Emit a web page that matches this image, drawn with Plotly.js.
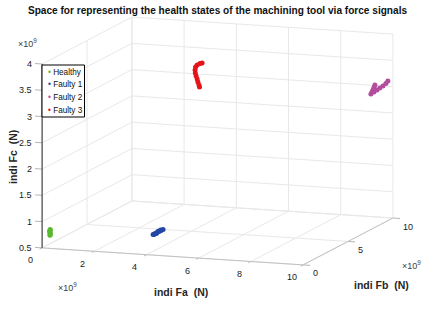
<!DOCTYPE html>
<html>
<head>
<meta charset="utf-8">
<script src="https://cdn.plot.ly/plotly-3.0.1.min.js"></script>
<style>html,body{margin:0;padding:0;background:#fff;}#chart{width:422px;height:309px;}</style>
</head>
<body>
<div id="chart"></div>
<script>
// ---- data (values in units of 1e9 N) ----
const seriesNames = ["Healthy", "Faulty 1", "Faulty 2", "Faulty 3"];
const seriesColors = ["#5ab92e", "#2347a6", "#b24e9d", "#e5141b"];

const healthyFa = [0.20, 0.20, 0.21, 0.20, 0.19, 0.20, 0.21, 0.20];
const healthyFb = [0.30, 0.30, 0.31, 0.30, 0.29, 0.30, 0.30, 0.31];
const healthyFc = [0.72, 0.73, 0.75, 0.77, 0.79, 0.80, 0.82, 0.83];

const faulty1Fa = [3.75, 3.75, 3.75, 3.75, 3.75, 3.75, 3.74, 3.76, 3.75, 3.74];
const faulty1Fb = [1.46, 1.68, 1.90, 2.12, 2.34, 2.57, 1.60, 2.00, 2.30, 1.85];
const faulty1Fc = [0.748, 0.747, 0.746, 0.746, 0.745, 0.744, 0.732, 0.762, 0.758, 0.732];

const faulty2Fa = [9.9, 9.9, 9.9, 9.9, 9.9, 9.9, 9.9, 9.9, 9.9, 9.9, 9.9];
const faulty2Fb = [8.29, 8.18, 8.07, 7.96, 7.84, 8.18, 8.51, 8.84, 9.18, 9.51, 9.73];
const faulty2Fc = [3.180, 3.142, 3.104, 3.076, 3.048, 3.056, 3.065, 3.073, 3.081, 3.099, 3.127];

const faulty3Fa = [4.41, 4.33, 4.22, 4.16, 4.14, 4.15, 4.18, 4.22, 4.25, 4.29, 4.31];
const faulty3Fb = [5.0, 5.0, 5.0, 5.0, 5.0, 5.0, 5.0, 5.0, 5.0, 5.0, 5.0];
const faulty3Fc = [3.714, 3.703, 3.670, 3.630, 3.573, 3.516, 3.460, 3.404, 3.348, 3.292, 3.255];

const xTicks = [0, 2, 4, 6, 8, 10];
const yTicks = [0, 5, 10];
const zTicks = [0.5, 1, 1.5, 2, 2.5, 3, 3.5, 4];
const xRange = [0, 10];
const yRange = [0, 10];
const zRange = [0.5, 4];

// ---- view (orthographic, like MATLAB view(az, el)) ----
const azDeg = -70.54, elDeg = 10.63;
const boxAspect = [1, 0.974, 0.676];
const phi = azDeg * Math.PI / 180, th = elDeg * Math.PI / 180;
const R = [-Math.sin(phi), Math.cos(phi), 0];
const U = [-Math.sin(th) * Math.cos(phi), -Math.sin(th) * Math.sin(phi), Math.cos(th)];

function norm(v, r) { return (v - r[0]) / (r[1] - r[0]); }
function projN(a, b, c) {
  const P = [(a - 0.5) * boxAspect[0], (b - 0.5) * boxAspect[1], (c - 0.5) * boxAspect[2]];
  return [P[0]*R[0] + P[1]*R[1] + P[2]*R[2], P[0]*U[0] + P[1]*U[1] + P[2]*U[2]];
}
function proj(x, y, z) { return projN(norm(x, xRange), norm(y, yRange), norm(z, zRange)); }

function segTrace(segs, color, width) {
  const xs = [], ys = [];
  segs.forEach(s => {
    const p = projN(...s[0]), q = projN(...s[1]);
    xs.push(p[0], q[0], null); ys.push(p[1], q[1], null);
  });
  return {type: "scatter", mode: "lines", x: xs, y: ys, line: {color: color, width: width},
          hoverinfo: "skip", showlegend: false};
}

// grid on the back planes: floor (c=0), back wall (b=1), left wall (a=0)
const gridSegs = [];
xTicks.forEach(t => { const a = norm(t, xRange);
  gridSegs.push([[a, 0, 0], [a, 1, 0]]); gridSegs.push([[a, 1, 0], [a, 1, 1]]); });
yTicks.forEach(t => { const b = norm(t, yRange);
  gridSegs.push([[0, b, 0], [1, b, 0]]); gridSegs.push([[0, b, 0], [0, b, 1]]); });
zTicks.forEach(t => { const c = norm(t, zRange);
  gridSegs.push([[0, 1, c], [1, 1, c]]); gridSegs.push([[0, 0, c], [0, 1, c]]); });

const tl = 0.027;
const xyAxisSegs = [[[0, 0, 0], [1, 0, 0]], [[1, 0, 0], [1, 1, 0]]];
const zAxisSegs = [[[0, 0, 0], [0, 0, 1]]];
const tickSegs = [];
xTicks.forEach(t => { const a = norm(t, xRange); tickSegs.push([[a, 0, 0], [a, -tl, 0]]); });
yTicks.forEach(t => { const b = norm(t, yRange); tickSegs.push([[1, b, 0], [1 + tl, b, 0]]); });
zTicks.forEach(t => { const c = norm(t, zRange); tickSegs.push([[0, 0, c], [-tl, 0, c]]); });

const traces = [
  segTrace(gridSegs, "#e8e8e8", 1),
  segTrace(tickSegs, "#b5b5b5", 1),
  segTrace(xyAxisSegs, "#c2c2c2", 1),
  segTrace(zAxisSegs, "#262626", 1)
];

const seriesData = [
  [healthyFa, healthyFb, healthyFc],
  [faulty1Fa, faulty1Fb, faulty1Fc],
  [faulty2Fa, faulty2Fb, faulty2Fc],
  [faulty3Fa, faulty3Fb, faulty3Fc]
];
seriesData.forEach((d, i) => {
  const pts = d[0].map((v, k) => proj(v, d[1][k], d[2][k]));
  traces.push({type: "scatter", mode: "markers", name: seriesNames[i],
    x: pts.map(p => p[0]), y: pts.map(p => p[1]),
    marker: {size: 5, color: seriesColors[i], line: {width: 0}},
    hoverinfo: "skip", showlegend: false});
});

// ---- text ----
const fontFam = "Liberation Sans, Arial, sans-serif";
const tickFont = {family: fontFam, size: 9, color: "#1a1a1a"};
const annotations = [];
xTicks.forEach(t => { const p = proj(t, yRange[0], zRange[0]);
  annotations.push({x: p[0], y: p[1], xref: "x", yref: "y", text: String(t), showarrow: false,
    xanchor: "center", yanchor: "middle", xshift: -11.5, yshift: -12.5, font: tickFont}); });
yTicks.forEach(t => { const p = proj(xRange[1], t, zRange[0]);
  annotations.push({x: p[0], y: p[1], xref: "x", yref: "y", text: String(t), showarrow: false,
    xanchor: "left", yanchor: "middle", xshift: 8, yshift: -8.5, font: tickFont}); });
zTicks.forEach(t => { const p = proj(xRange[0], yRange[0], t);
  annotations.push({x: p[0], y: p[1], xref: "x", yref: "y", text: String(t), showarrow: false,
    xanchor: "right", yanchor: "middle", xshift: -8, yshift: 0, font: tickFont}); });

const W = 422, H = 309;
function px(x) { return x / W; }
function py(y) { return 1 - y / H; }
const labFont = {family: fontFam, size: 10.5, color: "#262626"};
const expFont = {family: fontFam, size: 9, color: "#404040"};
annotations.push(
  {text: "<b>indi Fa  (N)</b>", xref: "paper", yref: "paper", x: px(181), y: py(292), showarrow: false, xanchor: "center", yanchor: "middle", font: labFont},
  {text: "<b>indi Fb  (N)</b>", xref: "paper", yref: "paper", x: px(381), y: py(285), showarrow: false, xanchor: "center", yanchor: "middle", font: labFont},
  {text: "<b>indi Fc  (N)</b>", xref: "paper", yref: "paper", x: px(13), y: py(157), showarrow: false, xanchor: "center", yanchor: "middle", textangle: -90, font: labFont},
  {text: "×10<sup>9</sup>", xref: "paper", yref: "paper", x: px(16), y: py(43), showarrow: false, xanchor: "left", yanchor: "middle", font: expFont},
  {text: "×10<sup>9</sup>", xref: "paper", yref: "paper", x: px(56), y: py(287), showarrow: false, xanchor: "left", yanchor: "middle", font: expFont},
  {text: "×10<sup>9</sup>", xref: "paper", yref: "paper", x: px(400), y: py(265), showarrow: false, xanchor: "left", yanchor: "middle", font: expFont}
);

// legend box
const legTop = 65, legPitch = 12.7, legFont = {family: fontFam, size: 8.2, color: "#111111"};
seriesNames.forEach((n, i) => {
  annotations.push({text: "<span style='color:" + seriesColors[i] + "'>•</span> " + n,
    xref: "paper", yref: "paper", x: px(45.5), y: py(legTop + 7 + i * legPitch),
    showarrow: false, xanchor: "left", yanchor: "middle", font: legFont});
});

const layout = {
  width: W, height: H,
  margin: {l: 0, r: 0, t: 0, b: 0},
  paper_bgcolor: "#ffffff", plot_bgcolor: "#ffffff",
  showlegend: false,
  title: {
    text: "<b>Space for representing the health states of the machining tool via force signals</b>",
    font: {family: fontFam, size: 10.1, color: "#111111"},
    x: 217.5 / W, xanchor: "center", y: py(10), yanchor: "middle"
  },
  xaxis: {range: [-217.5 / 276.8, (W - 217.5) / 276.8], visible: false, fixedrange: true},
  yaxis: {range: [(141 - H) / 276.8, 141 / 276.8], visible: false, fixedrange: true},
  shapes: [{type: "rect", xref: "paper", yref: "paper", x0: px(42), x1: px(84.5), y0: py(65), y1: py(117),
    line: {color: "#000000", width: 1}, fillcolor: "rgba(255,255,255,1)", layer: "above"}],
  annotations: annotations
};

Plotly.newPlot("chart", traces, layout, {displayModeBar: false, staticPlot: true});
</script>
</body>
</html>
